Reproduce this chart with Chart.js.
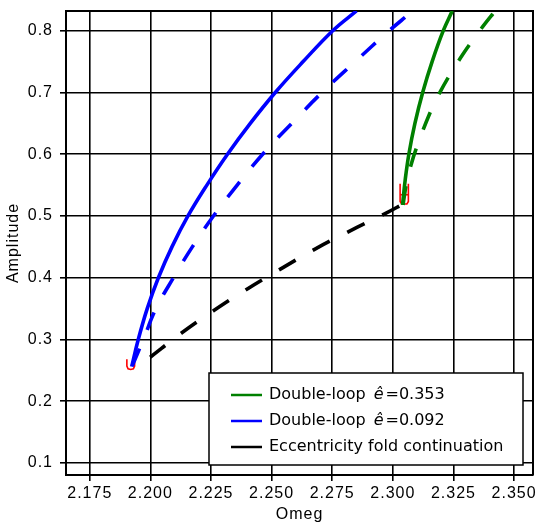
<!DOCTYPE html>
<html>
<head>
<meta charset="utf-8">
<script src="https://cdn.jsdelivr.net/npm/chart.js@4.4.1/dist/chart.umd.min.js"></script>
<style>
  html, body { margin: 0; padding: 0; background: #fff; }
  #wrap { width: 538px; height: 525px; }
</style>
</head>
<body>
<div id="wrap"><canvas id="c" width="538" height="525"></canvas></div>
<script>
// Axis ticks
const omegaTicks = [2.175, 2.200, 2.225, 2.250, 2.275, 2.300, 2.325, 2.350];
const ampTicks = [0.1, 0.2, 0.3, 0.4, 0.5, 0.6, 0.7, 0.8];

// Double-loop branch, e-hat = 0.092 (solid and dashed)
const blueSolidOmega = [2.1923, 2.1950, 2.1987, 2.2033, 2.2089, 2.2155, 2.2233, 2.2318, 2.2412, 2.2515, 2.2630, 2.2752, 2.2850];
const blueSolidAmp   = [0.256, 0.300, 0.350, 0.400, 0.450, 0.500, 0.550, 0.600, 0.650, 0.700, 0.750, 0.800, 0.832];
const blueDashOmega  = [2.1925, 2.1971, 2.2023, 2.2095, 2.2173, 2.2260, 2.2358, 2.2463, 2.2583, 2.2708, 2.2845, 2.2985, 2.3064];
const blueDashAmp    = [0.257, 0.300, 0.350, 0.400, 0.450, 0.500, 0.550, 0.600, 0.650, 0.700, 0.750, 0.800, 0.826];

// Double-loop branch, e-hat = 0.353 (solid and dashed)
const greenSolidOmega = [2.3040, 2.3051, 2.3066, 2.3091, 2.3123, 2.3162, 2.3208, 2.3245];
const greenSolidAmp   = [0.518, 0.5587, 0.600, 0.650, 0.700, 0.750, 0.800, 0.832];
const greenDashOmega  = [2.3042, 2.3055, 2.3074, 2.3098, 2.3157, 2.3194, 2.3232, 2.3278, 2.3322, 2.3373, 2.3422];
const greenDashAmp    = [0.518, 0.550, 0.5813, 0.611, 0.6705, 0.700, 0.7265, 0.7553, 0.7806, 0.8077, 0.832];

// Eccentricity fold continuation
const foldOmega = [2.1999, 2.2127, 2.2260, 2.2398, 2.2538, 2.2679, 2.2824, 2.2972, 2.3044];
const foldAmp   = [0.2713, 0.310, 0.3464, 0.3815, 0.4144, 0.4464, 0.476, 0.5047, 0.5198];

// Fold points (small red loops)
const loopLowOmega  = [2.1903, 2.1903, 2.1908, 2.1919, 2.1930, 2.1935, 2.1935];
const loopLowAmp    = [0.268, 0.257, 0.2525, 0.2515, 0.2525, 0.257, 0.268];
const loopHighOmega = [2.3030, 2.3030, 2.3036, 2.3058, 2.3064, 2.3064];
const loopHighAmp   = [0.552, 0.5235, 0.5195, 0.5195, 0.5235, 0.552];
const loopBarOmega  = [2.3030, 2.3064];
const loopBarAmp    = [0.5344, 0.5344];

// Legend entries: text before the symbol, italic symbol, text after
const legendBefore = ['Double-loop', 'Double-loop', 'Eccentricity fold continuation'];
const legendSymbol = ['ê', 'ê', ''];
const legendAfter  = ['=0.353', '=0.092', ''];
const legendColors = ['#008000', '#0000ff', '#000000'];

const pts = (xs, ys) => xs.map((x, i) => ({ x: x, y: ys[i] }));

function curve(xs, ys, color, dashed) {
  return {
    data: pts(xs, ys),
    borderColor: color,
    borderWidth: 3.6,
    borderDash: dashed ? [19, 20] : [],
    borderCapStyle: 'butt',
    showLine: true,
    pointRadius: 0,
    tension: 0.4,
    clip: 0
  };
}
function mark(xs, ys) {
  return {
    data: pts(xs, ys),
    borderColor: '#ff0000',
    borderWidth: 1.6,
    showLine: true,
    pointRadius: 0,
    tension: 0,
    clip: 0
  };
}

const axisFont = { family: '"Liberation Sans", Arial, sans-serif', size: 16 };

const framePlugin = {
  id: 'frame',
  beforeDraw(chart) {
    chart.ctx.letterSpacing = '1px';
  },
  beforeDatasetsDraw(chart) {
    const { ctx, chartArea: a } = chart;
    ctx.save();
    ctx.strokeStyle = '#000';
    ctx.lineWidth = 2;
    ctx.beginPath();
    ctx.moveTo(a.left, a.top);
    ctx.lineTo(a.right, a.top);
    ctx.lineTo(a.right, a.bottom);
    ctx.stroke();
    ctx.restore();
  },
  afterDraw(chart) {
    const { ctx, chartArea: a } = chart;
    ctx.save();
    ctx.letterSpacing = '0px';
    const w = 314, h = 92;
    const bx = a.right - 10 - w, by = a.bottom - 10 - h;
    ctx.fillStyle = '#fff';
    ctx.fillRect(bx, by, w, h);
    ctx.strokeStyle = '#000';
    ctx.lineWidth = 1.5;
    ctx.strokeRect(bx, by, w, h);
    const normal = '16px "DejaVu Sans", Verdana, sans-serif';
    const italic = 'italic 16px "DejaVu Sans", Verdana, sans-serif';
    ctx.textBaseline = 'middle';
    ctx.textAlign = 'left';
    for (let i = 0; i < legendBefore.length; i++) {
      const y = by + 22 + i * 26;
      ctx.strokeStyle = legendColors[i];
      ctx.lineWidth = 2.5;
      ctx.beginPath();
      ctx.moveTo(bx + 22, y);
      ctx.lineTo(bx + 53, y);
      ctx.stroke();
      ctx.fillStyle = '#000';
      let x = bx + 60;
      ctx.font = normal;
      ctx.fillText(legendBefore[i], x, y);
      x += ctx.measureText(legendBefore[i]).width + 8;
      if (legendSymbol[i]) {
        ctx.font = italic;
        ctx.fillText(legendSymbol[i], x, y);
        x += ctx.measureText(legendSymbol[i]).width + 2;
        ctx.font = normal;
        ctx.fillText(legendAfter[i], x, y);
      }
    }
    ctx.restore();
  }
};

new Chart(document.getElementById('c'), {
  type: 'scatter',
  data: {
    datasets: [
      curve(blueSolidOmega, blueSolidAmp, '#0000ff', false),
      curve(blueDashOmega, blueDashAmp, '#0000ff', true),
      curve(greenSolidOmega, greenSolidAmp, '#008000', false),
      curve(greenDashOmega, greenDashAmp, '#008000', true),
      curve(foldOmega, foldAmp, '#000000', true),
      mark(loopLowOmega, loopLowAmp),
      mark(loopHighOmega, loopHighAmp),
      mark(loopBarOmega, loopBarAmp)
    ]
  },
  options: {
    responsive: false,
    animation: false,
    devicePixelRatio: 1,
    layout: { padding: { left: 0, right: 5, top: 11, bottom: 0 } },
    plugins: { legend: { display: false }, tooltip: { enabled: false } },
    scales: {
      x: {
        type: 'linear',
        min: 2.1652,
        max: 2.3578,
        afterBuildTicks: s => { s.ticks = omegaTicks.map(v => ({ value: v })); },
        afterFit: s => { s.height = 50; s.paddingLeft = 0; s.paddingRight = 0; },
        ticks: {
          autoSkip: false, maxRotation: 0, color: '#000', font: axisFont, padding: 3,
          callback: v => v.toFixed(3)
        },
        grid: { color: '#000', lineWidth: 1.6, tickLength: 6, tickColor: '#000' },
        border: { color: '#000', width: 2 },
        title: { display: true, text: 'Omeg', color: '#000', font: axisFont, padding: { top: 0, bottom: 1 } }
      },
      y: {
        type: 'linear',
        min: 0.0806,
        max: 0.8319,
        afterBuildTicks: s => { s.ticks = ampTicks.map(v => ({ value: v })); },
        afterFit: s => { s.width = 66; s.paddingTop = 0; s.paddingBottom = 0; },
        ticks: {
          color: '#000', font: axisFont, padding: 7,
          callback: v => v.toFixed(1)
        },
        grid: { color: '#000', lineWidth: 1.6, tickLength: 6, tickColor: '#000' },
        border: { color: '#000', width: 2 },
        title: { display: true, text: 'Amplitude', color: '#000', font: axisFont, padding: { top: 4, bottom: 4 } }
      }
    }
  },
  plugins: [framePlugin]
});
</script>
</body>
</html>
